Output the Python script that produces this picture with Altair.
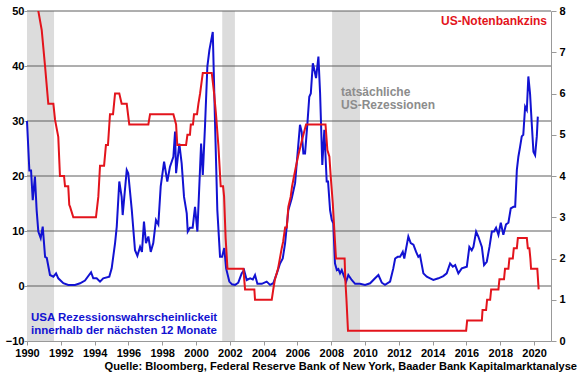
import altair as alt
import pandas as pd

# ---- data ----
blue_year = [1990.0, 1990.14, 1990.24, 1990.34, 1990.47, 1990.57, 1990.67, 1990.81, 1990.93, 1991.07,
             1991.17, 1991.36, 1991.56, 1991.72, 1991.85, 1992.15, 1992.44, 1992.84, 1993.14, 1993.43,
             1993.79, 1993.92, 1994.12, 1994.32, 1994.51, 1994.87, 1995.01, 1995.21, 1995.31, 1995.46,
             1995.60, 1995.66, 1995.90, 1995.99, 1996.20, 1996.39, 1996.53, 1996.69, 1996.80, 1996.92,
             1997.04, 1997.18, 1997.32, 1997.47, 1997.63, 1997.77, 1997.91, 1998.11, 1998.30, 1998.46,
             1998.66, 1998.76, 1998.82, 1999.01, 1999.15, 1999.29, 1999.45, 1999.51, 1999.64, 1999.80,
             1999.94, 2000.08, 2000.30, 2000.40, 2000.53, 2000.67, 2000.79, 2000.99, 2001.12, 2001.26,
             2001.42, 2001.54, 2001.67, 2001.78, 2001.97, 2002.13, 2002.31, 2002.50, 2002.70, 2002.84,
             2003.00, 2003.20, 2003.36, 2003.49, 2003.63, 2003.89, 2004.18, 2004.38, 2004.57, 2004.78,
             2004.97, 2005.13, 2005.27, 2005.46, 2005.66, 2005.86, 2005.99, 2006.15, 2006.25, 2006.35,
             2006.45, 2006.59, 2006.70, 2006.79, 2006.91, 2006.98, 2007.10, 2007.24, 2007.34, 2007.47,
             2007.59, 2007.73, 2007.81, 2007.93, 2008.03, 2008.12, 2008.22, 2008.33, 2008.42, 2008.52,
             2008.62, 2008.76, 2008.88, 2009.01, 2009.21, 2009.41, 2009.70, 2010.00, 2010.30, 2010.59,
             2010.79, 2010.99, 2011.18, 2011.48, 2011.67, 2011.78, 2011.93, 2012.07, 2012.23, 2012.32,
             2012.56, 2012.70, 2012.86, 2013.02, 2013.15, 2013.25, 2013.45, 2013.65, 2013.85, 2014.04,
             2014.34, 2014.63, 2014.83, 2015.03, 2015.19, 2015.33, 2015.52, 2015.72, 2015.92, 2016.02,
             2016.17, 2016.31, 2016.41, 2016.57, 2016.70, 2016.91, 2017.04, 2017.20, 2017.36, 2017.50,
             2017.63, 2017.75, 2017.89, 2018.03, 2018.18, 2018.34, 2018.48, 2018.62, 2018.78, 2018.88,
             2018.98, 2019.07, 2019.17, 2019.27, 2019.36, 2019.47, 2019.57, 2019.66, 2019.76, 2019.86,
             2019.96, 2020.06, 2020.16, 2020.22]
blue_val = [30.0, 21.0, 21.0, 15.6, 19.9, 13.8, 9.9, 8.7, 10.8, 5.3,
            5.1, 2.0, 1.7, 2.3, 1.4, 0.5, 0.2, 0.2, 0.5, 1.0,
            2.5, 1.4, 1.4, 0.8, 1.4, 1.7, 3.2, 7.8, 10.8, 19.0,
            16.2, 12.9, 21.1, 20.5, 13.8, 6.5, 5.5, 7.1, 6.2, 11.7,
            7.8, 9.0, 6.2, 7.8, 12.0, 11.2, 18.1, 22.6, 19.0, 21.7,
            23.5, 28.1, 20.5, 25.9, 22.3, 16.2, 13.2, 9.9, 10.6, 10.6,
            14.4, 9.9, 25.9, 20.2, 29.0, 39.9, 42.9, 46.2, 30.2, 13.8,
            5.3, 5.3, 6.9, 3.2, 0.8, 0.3, 0.2, 0.6, 2.3, 2.9,
            1.1, 1.4, 1.2, 2.0, 0.4, 0.4, 0.8, 0.2, 0.5, 2.3,
            4.1, 5.0, 7.8, 13.8, 15.9, 18.7, 23.5, 29.3, 28.0, 24.1,
            24.1, 29.6, 34.4, 35.0, 40.5, 39.6, 37.8, 41.7, 35.0, 22.0,
            28.4, 19.0, 19.0, 13.8, 12.0, 11.4, 4.1, 2.9, 3.1, 2.3,
            2.9, 1.7, 0.8, 2.0, 1.1, 0.4, 0.4, 0.2, 0.5, 1.4,
            2.0, 0.6, 0.2, 0.8, 3.2, 5.0, 5.3, 5.3, 6.2, 5.0,
            9.0, 7.8, 7.5, 6.2, 5.3, 5.6, 2.3, 1.7, 1.4, 1.1,
            1.4, 1.8, 2.3, 4.1, 3.5, 3.8, 2.3, 3.2, 3.4, 3.5,
            7.1, 6.5, 7.1, 9.9, 9.0, 7.1, 3.8, 4.4, 7.1, 9.9,
            9.9, 10.6, 9.3, 11.5, 9.3, 11.2, 11.5, 14.1, 14.4, 14.4,
            21.1, 23.5, 25.3, 27.2, 27.5, 32.6, 32.0, 38.1, 35.0, 29.6,
            24.4, 23.8, 27.2, 30.8]

red_year = [1990.0, 1990.55, 1990.67, 1990.87, 1991.07, 1991.26, 1991.56, 1991.66, 1991.85, 1991.95,
            1992.19, 1992.25, 1992.44, 1992.50, 1992.55, 1992.74, 1994.08, 1994.22, 1994.32, 1994.56,
            1994.67, 1994.79, 1994.91, 1995.09, 1995.21, 1995.46, 1995.60, 1995.90, 1996.05, 1997.18,
            1997.28, 1998.66, 1998.82, 1998.89, 1999.41, 1999.49, 1999.64, 1999.69, 1999.82, 1999.88,
            2000.06, 2000.14, 2000.24, 2000.40, 2000.93, 2001.07, 2001.18, 2001.32, 2001.46, 2001.60,
            2001.66, 2001.75, 2001.86, 2002.80, 2002.90, 2003.45, 2003.49, 2004.48, 2004.57, 2004.67,
            2004.85, 2005.07, 2005.15, 2005.27, 2005.37, 2005.46, 2005.60, 2005.68, 2005.80, 2005.92,
            2006.05, 2006.20, 2006.35, 2006.51, 2007.66, 2007.77, 2007.89, 2007.97, 2008.09, 2008.17,
            2008.28, 2008.79, 2008.83, 2008.90, 2008.99, 2015.98, 2016.04, 2016.91, 2016.95, 2017.16,
            2017.22, 2017.40, 2017.46, 2017.89, 2017.95, 2018.22, 2018.28, 2018.48, 2018.54, 2018.74,
            2018.80, 2018.98, 2019.04, 2019.57, 2019.63, 2019.72, 2019.78, 2019.82, 2020.19, 2020.27]
red_val = [8.25, 8.25, 8.0, 7.54, 6.65, 5.75, 5.75, 5.36, 4.95, 4.0,
           4.0, 3.75, 3.75, 3.3, 3.25, 3.0, 3.0, 3.5, 4.25, 4.25,
           4.75, 4.75, 5.5, 5.5, 6.0, 6.0, 5.75, 5.75, 5.25, 5.25,
           5.5, 5.5, 5.25, 4.75, 4.75, 5.0, 5.0, 5.25, 5.25, 5.5,
           5.5, 5.75, 6.0, 6.5, 6.5, 6.0, 5.5, 4.75, 3.75, 3.75,
           3.5, 2.5, 1.75, 1.75, 1.25, 1.25, 1.0, 1.0, 1.25, 1.5,
           1.75, 2.25, 2.4, 2.75, 2.75, 3.25, 3.5, 3.75, 4.0, 4.25,
           4.5, 4.75, 5.0, 5.25, 5.25, 4.63, 4.47, 3.98, 3.34, 2.77,
           2.0, 2.0, 1.5, 1.0, 0.25, 0.25, 0.5, 0.5, 0.75, 0.75,
           1.0, 1.0, 1.25, 1.25, 1.5, 1.5, 1.75, 1.75, 2.0, 2.0,
           2.25, 2.25, 2.5, 2.5, 2.25, 2.25, 2.0, 1.75, 1.75, 1.25]

rec_start = [1990.0, 2001.55, 2008.05]
rec_end = [1991.6, 2002.3, 2009.7]

grid_vals = [0, 10, 20, 30, 40, 50]
left_ticks = [-10, 0, 10, 20, 30, 40, 50]
right_ticks = [0, 1, 2, 3, 4, 5, 6, 7, 8]
year_ticks = list(range(1990, 2021, 2))

FONT = "Liberation Sans"
BLUE = "#1212d2"
RED = "#e3141c"
W, H = 524, 330

blue_df = pd.DataFrame({"year": blue_year, "p": blue_val})
red_df = pd.DataFrame({"year": red_year, "r": red_val})
rec_df = pd.DataFrame({"start": rec_start, "end": rec_end})
grid_df = pd.DataFrame({"g": grid_vals})

xscale = alt.Scale(domain=[1990, 2021], nice=False, zero=False)
xaxis = alt.Axis(values=year_ticks, format="d", grid=False, title=None,
                 domainColor="#999999", tickColor="#999999", tickSize=4,
                 labelFont=FONT, labelFontWeight="bold", labelFontSize=11,
                 labelColor="#000000", labelPadding=2, labelFlush=False,
                 labelOverlap=False)
lscale = alt.Scale(domain=[-10, 50], nice=False, zero=False)
laxis = alt.Axis(values=left_ticks, grid=False, title=None, format="d",
                 domainColor="#999999", tickColor="#999999", tickSize=3,
                 labelFont=FONT, labelFontWeight="bold", labelFontSize=11,
                 labelColor="#000000", labelPadding=0, labelOverlap=False,
                 labelFlush=False)
rscale = alt.Scale(domain=[0, 8], nice=False, zero=False)
raxis = alt.Axis(values=right_ticks, grid=False, title=None, orient="right",
                 domainColor="#999999", tickColor="#999999", tickSize=5,
                 labelFont=FONT, labelFontWeight="bold", labelFontSize=11,
                 labelColor="#000000", labelPadding=3, labelOverlap=False,
                 labelFlush=False)

rects = alt.Chart(rec_df).mark_rect(color="#dcdcdc").encode(
    x=alt.X("start:Q", scale=xscale, axis=xaxis),
    x2="end:Q",
)
grid = alt.Chart(grid_df).mark_rule(color="#5e5e5e", strokeWidth=1).encode(
    y=alt.Y("g:Q", scale=lscale, axis=laxis),
)
blue = alt.Chart(blue_df).mark_line(color=BLUE, strokeWidth=2).encode(
    x=alt.X("year:Q", scale=xscale, axis=xaxis),
    y=alt.Y("p:Q", scale=lscale, axis=laxis),
)
left = alt.layer(rects, grid, blue)

red = alt.Chart(red_df).mark_line(color=RED, strokeWidth=2, clip=True).encode(
    x=alt.X("year:Q", scale=xscale, axis=xaxis),
    y=alt.Y("r:Q", scale=rscale, axis=raxis),
)

t_blue = alt.Chart(pd.DataFrame({"t": [["USA Rezessionswahrscheinlickeit",
                                        "innerhalb der nächsten 12 Monate"]]})).mark_text(
    font=FONT, fontWeight="bold", fontSize=11.5, color=BLUE, align="left",
    baseline="middle", lineHeight=13).encode(text="t", x=alt.value(4), y=alt.value(307))
t_red = alt.Chart(pd.DataFrame({"t": ["US-Notenbankzins"]})).mark_text(
    font=FONT, fontWeight="bold", fontSize=12, color=RED, align="right",
    baseline="middle").encode(text="t", x=alt.value(520), y=alt.value(10))
t_rec = alt.Chart(pd.DataFrame({"t": [["tatsächliche", "US-Rezessionen"]]})).mark_text(
    font=FONT, fontWeight="bold", fontSize=12, color="#8c8c8c", align="left",
    baseline="middle", lineHeight=13).encode(text="t", x=alt.value(314), y=alt.value(81))
t_src = alt.Chart(pd.DataFrame({"t": ["Quelle: Bloomberg, Federal Reserve Bank of New York, Baader Bank Kapitalmarktanalyse"]})).mark_text(
    font=FONT, fontWeight="bold", fontSize=11.1, color="#000000", align="right",
    baseline="middle").encode(text="t", x=alt.value(550), y=alt.value(356))

chart = alt.layer(left, red, t_blue, t_red, t_rec, t_src).resolve_scale(
    y="independent"
).properties(
    width=W, height=H,
    padding={"left": 5, "top": 5, "right": 3, "bottom": 2},
).configure_view(stroke=None)

chart.save("out.html", embed_options={"renderer": "svg", "actions": False})
